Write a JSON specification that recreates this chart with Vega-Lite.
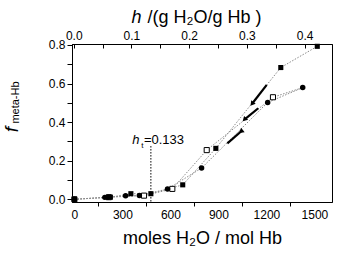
{
  "$schema": "https://vega.github.io/schema/vega-lite/v6.json",
  "width": 260,
  "height": 158,
  "autosize": {"type": "none"},
  "padding": {"left": 72, "top": 44, "right": 6, "bottom": 52},
  "background": "white",
  "config": {
    "view": {"stroke": "black", "strokeWidth": 1},
    "font": "Liberation Sans",
    "axis": {
      "grid": false,
      "domainColor": "black",
      "tickColor": "black",
      "labelColor": "black",
      "titleColor": "black",
      "labelFont": "Liberation Sans",
      "titleFont": "Liberation Sans",
      "labelFontSize": 12,
      "titleFontWeight": "normal"
    }
  },
  "datasets": {
    "points": [
      {"series": "open", "x": 0, "y": 0.0},
      {"series": "open", "x": 215, "y": 0.011},
      {"series": "open", "x": 435, "y": 0.019},
      {"series": "open", "x": 612, "y": 0.054},
      {"series": "open", "x": 827, "y": 0.255},
      {"series": "open", "x": 1241, "y": 0.529},
      {"series": "open", "x": 1427, "y": 0.579},
      {"series": "square", "x": 0, "y": 0.0},
      {"series": "square", "x": 225, "y": 0.011},
      {"series": "square", "x": 353, "y": 0.029},
      {"series": "square", "x": 478, "y": 0.029},
      {"series": "square", "x": 677, "y": 0.075},
      {"series": "square", "x": 884, "y": 0.264},
      {"series": "square", "x": 1290, "y": 0.683},
      {"series": "square", "x": 1518, "y": 0.793},
      {"series": "circle", "x": 0, "y": 0.0},
      {"series": "circle", "x": 190, "y": 0.010},
      {"series": "circle", "x": 208, "y": 0.010},
      {"series": "circle", "x": 320, "y": 0.018},
      {"series": "circle", "x": 406, "y": 0.020},
      {"series": "circle", "x": 582, "y": 0.053},
      {"series": "circle", "x": 795, "y": 0.162},
      {"series": "circle", "x": 1208, "y": 0.502},
      {"series": "circle", "x": 1427, "y": 0.579}
    ],
    "arrows": [
      {"id": "a", "x": 1113, "y": 0.498, "xt": 1202, "yt": 0.593},
      {"id": "b", "x": 1066, "y": 0.416, "xt": 1149, "yt": 0.472},
      {"id": "c", "x": 1045, "y": 0.354, "xt": 956, "yt": 0.290}
    ],
    "note": [{"x": 478, "y": 0.276}],
    "haxis": [{"h": 0, "v": 0}, {"h": 0.4, "v": 0.8}]
  },
  "layer": [
    {
      "encoding": {
        "x": {
          "field": "x",
          "type": "quantitative",
          "scale": {"domain": [-15, 1610], "nice": false, "zero": false},
          "axis": {
            "orient": "bottom",
            "values": [0, 150, 300, 450, 600, 750, 900, 1050, 1200, 1350, 1500],
            "format": "d",
            "labelExpr": "datum.value % 300 === 0 ? datum.label : ''",
            "tickOpacity": {"condition": {"test": "datum.value % 300 === 0", "value": 0}, "value": 1},
            "tickSize": 4,
            "labelPadding": 3,
            "title": "moles H₂O / mol Hb",
            "titleFontSize": 18,
            "titleX": 130,
            "titleY": 41,
            "titleAlign": "center",
            "titleBaseline": "alphabetic"
          }
        },
        "y": {
          "field": "y",
          "type": "quantitative",
          "scale": {"domain": [-0.014, 0.805], "nice": false, "zero": false},
          "axis": {
            "orient": "left",
            "values": [0, 0.1, 0.2, 0.3, 0.4, 0.5, 0.6, 0.7, 0.8],
            "format": ".1f",
            "labelExpr": "abs(datum.value*5 - round(datum.value*5)) < 0.01 ? format(datum.value, '.1f') : ''",
            "tickSize": 5,
            "labelPadding": 2,
            "title": "f",
            "titleFontSize": 19,
            "titleFontStyle": "italic",
            "titleX": -61,
            "titleY": 85,
            "titleAngle": -90,
            "titleAlign": "center",
            "titleBaseline": "middle"
          }
        }
      },
      "layer": [
        {
          "data": {"name": "points"},
          "mark": {"type": "line", "color": "#8a8a8a", "strokeWidth": 1, "strokeDash": [1.5, 1.5]},
          "encoding": {"detail": {"field": "series", "type": "nominal"}}
        },
        {
          "data": {"name": "points"},
          "transform": [{"filter": "datum.series === 'open' && datum.x < 1400"}],
          "mark": {"type": "point", "shape": "square", "filled": false, "fill": "white", "stroke": "black", "strokeWidth": 1, "size": 26, "opacity": 1}
        },
        {
          "data": {"name": "points"},
          "transform": [{"filter": "datum.series === 'square'"}],
          "mark": {"type": "point", "shape": "square", "filled": true, "color": "black", "size": 26, "opacity": 1}
        },
        {
          "data": {"name": "points"},
          "transform": [{"filter": "datum.series === 'circle'"}],
          "mark": {"type": "point", "shape": "circle", "filled": true, "color": "black", "size": 30, "opacity": 1}
        },
        {
          "data": {"name": "note"},
          "mark": {"type": "rule", "color": "black", "strokeWidth": 1, "strokeDash": [1.5, 1.5]},
          "encoding": {"y2": {"datum": -0.014}}
        },
        {
          "data": {"name": "note"},
          "mark": {"type": "text", "text": "h", "fontStyle": "italic", "fontSize": 13, "align": "center", "baseline": "alphabetic", "dx": -15, "dy": -2, "color": "black"}
        },
        {
          "data": {"name": "note"},
          "mark": {"type": "text", "text": "t", "fontSize": 8, "align": "center", "baseline": "alphabetic", "dx": -8.5, "dy": 2, "color": "black"}
        },
        {
          "data": {"name": "note"},
          "mark": {"type": "text", "text": "=0.133", "fontSize": 13, "align": "left", "baseline": "alphabetic", "dx": -7, "dy": -2, "color": "black"}
        },
        {
          "data": {"name": "arrows"},
          "mark": {"type": "rule", "color": "black", "strokeWidth": 2.2},
          "encoding": {"x2": {"field": "xt"}, "y2": {"field": "yt"}}
        },
        {
          "data": {"name": "arrows"},
          "mark": {"type": "point", "shape": "triangle", "filled": true, "color": "black", "size": 32, "opacity": 1},
          "encoding": {
            "angle": {"field": "id", "type": "nominal", "scale": {"domain": ["a", "b", "c"], "range": [218, 231, 49]}, "legend": null}
          }
        }
      ]
    },
    {
      "data": {"name": "haxis"},
      "mark": {"type": "point", "opacity": 0},
      "encoding": {
        "x": {
          "field": "h",
          "type": "quantitative",
          "scale": {"domain": [-0.003, 0.4475], "nice": false, "zero": false},
          "axis": {
            "orient": "top",
            "values": [0, 0.05, 0.1, 0.15, 0.2, 0.25, 0.3, 0.35, 0.4],
            "labelExpr": "abs(datum.value*10 - round(datum.value*10)) < 0.01 ? format(datum.value, '.1f') : ''",
            "tickSize": -4,
            "labelPadding": 6,
            "title": "/(g H₂O/g Hb )",
            "titleFontSize": 18,
            "titleX": 75,
            "titleY": -22,
            "titleAlign": "left",
            "titleBaseline": "alphabetic"
          }
        },
        "y": {
          "field": "v",
          "type": "quantitative",
          "scale": {"domain": [-0.014, 0.805], "nice": false, "zero": false},
          "axis": {
            "orient": "left",
            "labels": false,
            "ticks": false,
            "domain": false,
            "title": "meta-Hb",
            "titleFontSize": 11,
            "titleX": -57,
            "titleY": 58,
            "titleAngle": -90,
            "titleAlign": "center",
            "titleBaseline": "middle"
          }
        }
      }
    },
    {
      "data": {"name": "haxis"},
      "mark": {"type": "point", "opacity": 0},
      "encoding": {
        "x": {
          "field": "h",
          "type": "quantitative",
          "scale": {"domain": [-0.003, 0.4475], "nice": false, "zero": false},
          "axis": {
            "orient": "top",
            "labels": false,
            "ticks": false,
            "domain": false,
            "title": "h",
            "titleFontSize": 18,
            "titleFontStyle": "italic",
            "titleX": 64,
            "titleY": -22,
            "titleAlign": "center",
            "titleBaseline": "alphabetic"
          }
        }
      }
    }
  ],
  "resolve": {"scale": {"x": "independent", "y": "independent"}}
}
